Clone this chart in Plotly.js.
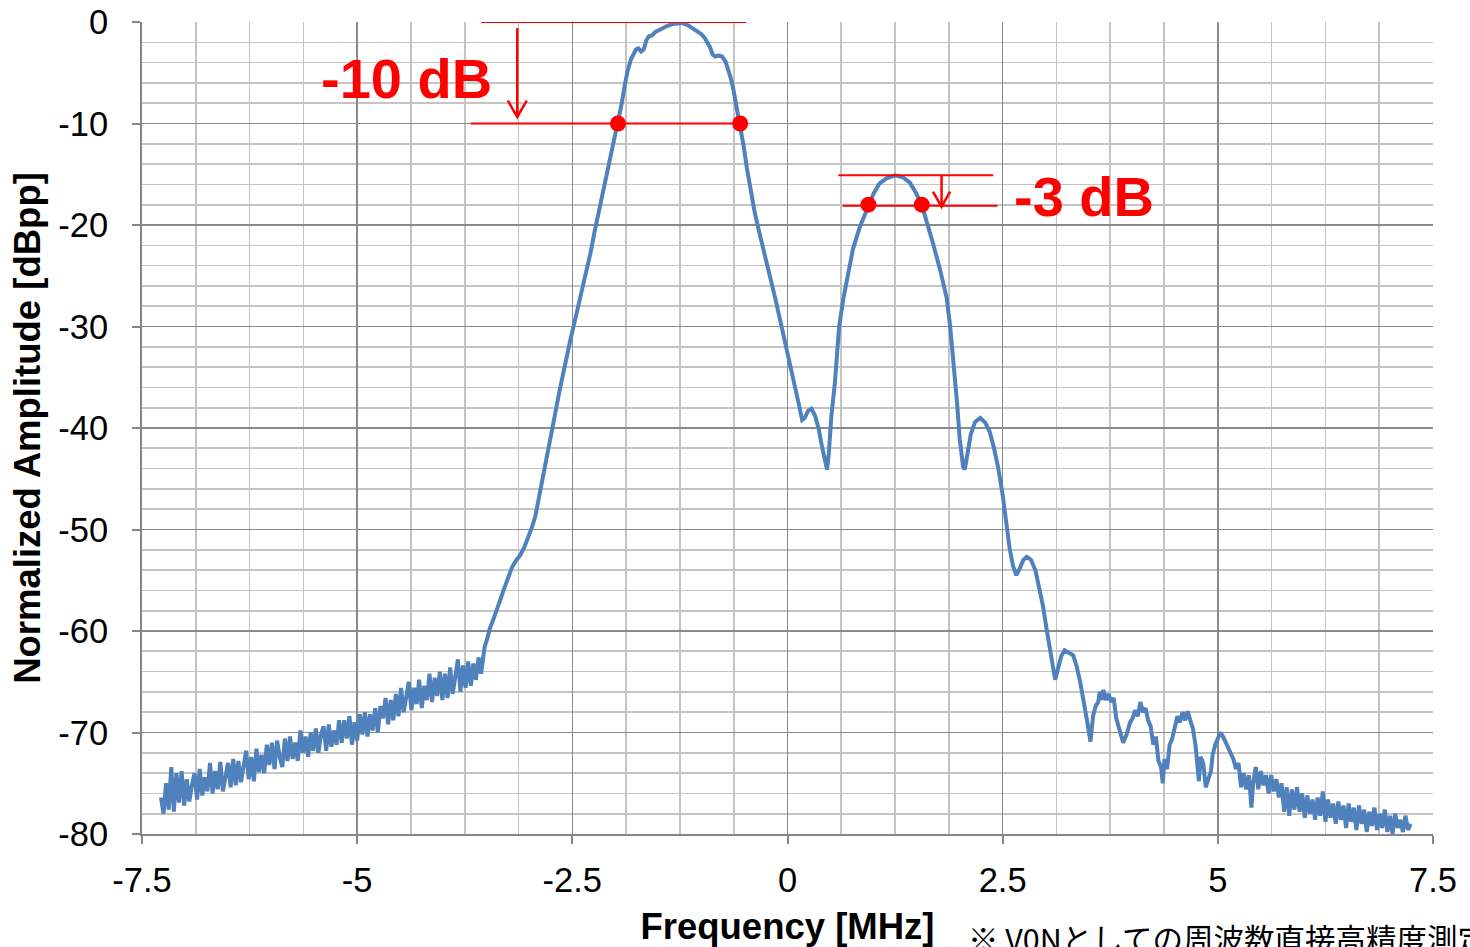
<!DOCTYPE html>
<html>
<head>
<meta charset="utf-8">
<script src="https://cdn.plot.ly/plotly-3.0.1.min.js"></script>
<style>html,body{margin:0;padding:0;background:#fff;overflow:hidden;}#chart{width:1470px;height:947px;}</style>
</head>
<body>
<div id="chart"></div>
<script>
// ---- data ----
// noisy floor on the low-frequency side
const freqFloor = [-7.28,-7.25,-7.22,-7.19,-7.16,-7.13,-7.10,-7.07,-7.04,-7.01,
  -6.98,-6.95,-6.92,-6.89,-6.86,-6.83,-6.80,-6.77,-6.74,-6.71,
  -6.68,-6.65,-6.62,-6.59,-6.56,-6.53,-6.50,-6.47,-6.44,-6.41,
  -6.38,-6.35,-6.32,-6.29,-6.26,-6.23,-6.20,-6.17,-6.14,-6.11,
  -6.08,-6.05,-6.02,-5.99,-5.96,-5.93,-5.90,-5.87,-5.84,-5.81,
  -5.78,-5.75,-5.72,-5.69,-5.66,-5.63,-5.60,-5.57,-5.54,-5.51,
  -5.48,-5.45,-5.42,-5.39,-5.36,-5.33,-5.30,-5.27,-5.24,-5.21,
  -5.18,-5.15,-5.12,-5.09,-5.06,-5.03,-5.00,-4.97,-4.94,-4.91,
  -4.88,-4.85,-4.82,-4.79,-4.76,-4.73,-4.70,-4.67,-4.64,-4.61,
  -4.58,-4.55,-4.52,-4.49,-4.46,-4.43,-4.40,-4.37,-4.34,-4.31,
  -4.28,-4.25,-4.22,-4.19,-4.16,-4.13,-4.10,-4.07,-4.04,-4.01,
  -3.98,-3.95,-3.92,-3.89,-3.86,-3.83,-3.80,-3.77,-3.74,-3.71,
  -3.68,-3.65,-3.62,-3.59,-3.56];
const ampFloor = [-76.4,-78.0,-75.0,-77.6,-73.4,-77.8,-74.0,-76.9,-73.8,-77.2,
  -74.6,-76.8,-75.2,-74.0,-76.6,-73.6,-76.2,-74.4,-75.8,-73.0,
  -76.0,-73.8,-75.6,-72.9,-75.8,-74.2,-73.0,-75.4,-72.6,-75.2,
  -72.8,-74.9,-73.2,-71.8,-74.6,-72.4,-74.8,-71.6,-73.9,-72.2,
  -74.0,-71.2,-73.2,-71.0,-73.6,-70.8,-72.4,-73.4,-70.6,-72.8,
  -70.4,-72.6,-71.0,-72.8,-69.8,-72.0,-70.4,-72.4,-70.0,-71.8,
  -69.6,-72.0,-70.2,-69.4,-71.8,-69.2,-71.4,-69.8,-71.2,-68.8,
  -71.0,-68.8,-70.6,-68.4,-71.2,-69.0,-70.8,-68.2,-70.2,-68.0,
  -70.4,-68.2,-69.8,-67.6,-70.0,-67.4,-68.6,-66.6,-69.2,-66.8,
  -68.8,-66.2,-68.4,-65.6,-68.0,-66.6,-65.0,-67.8,-65.6,-67.2,
  -64.8,-67.6,-65.4,-66.8,-64.2,-67.0,-64.6,-66.4,-64.0,-66.8,
  -64.2,-66.6,-63.6,-66.2,-64.4,-62.8,-66.0,-63.4,-65.6,-63.0,
  -65.4,-63.2,-64.8,-62.6,-64.2];

// main lobe, first side lobe and near sidebands
const freqMain = [-3.54,-3.52,-3.49,-3.46,-3.42,-3.38,-3.34,-3.30,-3.26,-3.23,-3.20,-3.15,-3.11,-3.06,-3.02,-2.97,-2.93,-2.88,-2.84,-2.80,-2.75,-2.70,-2.65,-2.59,-2.53,-2.47,-2.41,-2.35,-2.29,-2.24,-2.18,-2.12,-2.06,-2.00,-1.97,-1.93,-1.89,-1.86,-1.82,-1.79,-1.76,-1.73,-1.70,-1.67,-1.64,-1.61,-1.57,-1.54,-1.50,-1.45,-1.40,-1.34,-1.28,-1.22,-1.16,-1.10,-1.05,-1.00,-0.96,-0.93,-0.90,-0.87,-0.84,-0.80,-0.76,-0.72,-0.69,-0.66,-0.63,-0.60,-0.57,-0.55,-0.51,-0.47,-0.43,-0.38,-0.32,-0.26,-0.20,-0.14,-0.08,-0.02,0.03,0.08,0.13,0.17,0.20,0.24,0.28,0.32,0.36,0.40,0.44,0.46,0.48,0.51,0.55,0.60,0.65,0.70,0.76,0.84,0.90,0.94,1.00,1.07,1.15,1.25,1.34,1.42,1.49,1.56,1.62,1.69,1.77,1.85,1.89,1.93,1.97,2.00,2.04,2.06,2.09,2.13,2.18,2.24,2.30,2.35,2.40,2.45,2.50,2.54,2.58,2.62,2.66,2.70,2.74,2.78,2.83,2.88,2.93,2.97,3.01,3.05,3.08,3.11,3.14,3.18,3.22,3.27,3.32,3.36,3.40];
const ampMain = [-62.9,-61.6,-60.8,-59.8,-58.9,-57.8,-57.0,-56.0,-55.0,-54.5,-53.7,-53.0,-52.6,-51.8,-51.0,-49.8,-48.7,-46.4,-44.6,-43.0,-40.6,-38.6,-36.4,-33.9,-31.6,-29.4,-27.3,-25.2,-22.8,-20.6,-18.2,-15.8,-13.4,-11.2,-10.0,-8.2,-6.2,-4.9,-3.7,-3.1,-2.7,-2.6,-2.9,-2.7,-1.8,-1.4,-1.3,-1.0,-0.8,-0.6,-0.4,-0.2,-0.1,-0.1,-0.3,-0.6,-0.9,-1.2,-1.6,-2.0,-2.5,-3.2,-3.4,-3.3,-3.4,-3.9,-4.6,-5.5,-6.6,-7.9,-9.2,-10.0,-12.2,-14.5,-16.6,-18.8,-21.0,-23.0,-25.0,-27.3,-29.6,-31.8,-33.6,-35.6,-37.6,-39.2,-39.0,-38.3,-38.1,-38.8,-40.0,-41.8,-43.6,-44.1,-42.5,-38.8,-35.6,-30.0,-27.2,-24.8,-22.4,-20.2,-18.9,-18.0,-16.9,-15.9,-15.4,-15.1,-15.3,-15.8,-16.8,-18.0,-19.7,-21.8,-24.3,-27.2,-30.0,-33.3,-37.5,-41.0,-43.8,-44.1,-42.5,-40.6,-39.4,-39.0,-39.5,-40.4,-42.0,-44.0,-46.6,-49.5,-51.8,-53.6,-54.5,-53.8,-53.0,-52.7,-53.0,-54.0,-55.8,-57.6,-59.8,-61.8,-63.6,-64.8,-63.8,-62.5,-61.9,-62.2,-62.4,-63.5,-65.0];

// noisy high-frequency tail
const freqTail = [3.48,3.50,3.52,3.55,3.58,3.61,3.63,3.65,3.67,3.70,
  3.73,3.76,3.79,3.82,3.86,3.90,3.94,3.98,4.01,4.04,
  4.07,4.10,4.13,4.16,4.19,4.22,4.25,4.28,4.31,4.34,
  4.36,4.38,4.41,4.44,4.47,4.50,4.53,4.56,4.59,4.62,
  4.65,4.68,4.71,4.74,4.76,4.78,4.80,4.83,4.86,4.89,
  4.92,4.94,4.97,5.00,5.03,5.06,5.09,5.12,5.15,5.18,
  5.21,5.24,5.27,5.30,5.33,5.36,5.39,5.41,5.44,5.47,
  5.50,5.53,5.56,5.59,5.62,5.65,5.68,5.71,5.74,5.77,
  5.80,5.83,5.86,5.89,5.92,5.95,5.98,6.01,6.04,6.07,
  6.10,6.13,6.16,6.19,6.22,6.25,6.28,6.31,6.34,6.37,
  6.40,6.43,6.46,6.49,6.52,6.55,6.58,6.61,6.64,6.67,
  6.70,6.73,6.76,6.79,6.82,6.85,6.88,6.91,6.94,6.97,
  7.00,7.03,7.06,7.09,7.12,7.15,7.18,7.21,7.24];
const ampTail = [-68.8,-70.2,-70.9,-68.4,-67.4,-67.0,-66.0,-66.8,-65.8,-66.8,
  -66.2,-67.0,-66.6,-68.6,-70.0,-71.0,-70.2,-69.0,-68.6,-67.8,
  -68.4,-67.0,-68.0,-67.6,-68.8,-69.4,-71.2,-70.4,-72.8,-73.4,
  -75.0,-72.6,-73.6,-71.2,-70.6,-69.4,-68.4,-69.0,-68.0,-68.8,
  -67.9,-68.8,-69.6,-71.2,-73.6,-74.8,-72.4,-73.0,-75.4,-74.6,
  -73.8,-72.2,-71.2,-70.6,-70.0,-70.4,-71.0,-71.4,-72.2,-72.6,
  -73.6,-73.0,-75.4,-74.0,-75.6,-74.2,-77.4,-75.0,-73.4,-75.6,
  -73.8,-75.2,-74.2,-76.0,-74.2,-75.8,-74.6,-76.4,-75.0,-77.8,
  -75.4,-78.2,-75.6,-77.6,-75.4,-77.8,-76.0,-78.4,-76.2,-78.0,
  -76.6,-78.6,-76.4,-78.2,-75.8,-78.8,-76.6,-78.4,-77.0,-79.0,
  -76.8,-78.6,-77.2,-79.4,-77.0,-78.8,-77.4,-79.6,-77.2,-79.0,
  -77.6,-79.8,-77.8,-79.2,-77.4,-79.6,-78.0,-79.4,-77.6,-79.8,
  -78.2,-80.0,-78.0,-79.4,-78.6,-79.8,-78.2,-79.6,-79.0];

// measurement points (-10 dB and -3 dB crossings)
const markerFreq = [-1.97, -0.55, 0.94, 1.56];
const markerAmp = [-10, -10, -18, -18];

const xTickVals = [-7.5, -5, -2.5, 0, 2.5, 5, 7.5];
const xTickText = ['-7.5', '-5', '-2.5', '0', '2.5', '5', '7.5'];
const yTickVals = [-80, -70, -60, -50, -40, -30, -20, -10, 0];
const yTickText = ['-80', '-70', '-60', '-50', '-40', '-30', '-20', '-10', '0'];

// ---- build ----
const freq = freqFloor.concat(freqMain, freqTail);
const amp = ampFloor.concat(ampMain, ampTail);

const RED = '#ff0000';
const FONT = 'Liberation Sans, Arial, sans-serif';

const traces = [
  {x: freq, y: amp, type: 'scatter', mode: 'lines',
   line: {color: '#4f81bd', width: 4}, hoverinfo: 'skip'},
  {x: markerFreq, y: markerAmp, type: 'scatter', mode: 'markers',
   marker: {color: RED, size: 16}, hoverinfo: 'skip'}
];

const shapes = [
  // -10 dB guide
  {type: 'line', xref: 'x', yref: 'y', x0: -3.56, x1: -0.48, y0: 0, y1: 0, line: {color: RED, width: 2}},
  {type: 'line', xref: 'x', yref: 'y', x0: -3.68, x1: -0.46, y0: -10, y1: -10, line: {color: RED, width: 2}},
  {type: 'path', xref: 'x', yref: 'y', path: 'M -3.14 -0.6 L -3.14 -9.35', line: {color: RED, width: 2.5}},
  {type: 'path', xref: 'x', yref: 'y', path: 'M -3.25 -7.75 L -3.14 -9.35 L -3.03 -7.75', line: {color: RED, width: 2.5}},
  // -3 dB guide
  {type: 'line', xref: 'x', yref: 'y', x0: 0.59, x1: 2.39, y0: -15.1, y1: -15.1, line: {color: RED, width: 2}},
  {type: 'line', xref: 'x', yref: 'y', x0: 0.64, x1: 2.44, y0: -18.1, y1: -18.1, line: {color: RED, width: 2}},
  {type: 'path', xref: 'x', yref: 'y', path: 'M 1.79 -15.1 L 1.79 -18.2', line: {color: RED, width: 2.5}},
  {type: 'path', xref: 'x', yref: 'y', path: 'M 1.69 -16.7 L 1.79 -18.2 L 1.89 -16.7', line: {color: RED, width: 2.5}}
];

const annotations = [
  {x: -4.43, y: -5.6, xref: 'x', yref: 'y', text: '<b>-10 dB</b>', showarrow: false,
   font: {family: FONT, size: 56, color: RED}},
  {x: 3.44, y: -17.2, xref: 'x', yref: 'y', text: '<b>-3 dB</b>', showarrow: false,
   font: {family: FONT, size: 56, color: RED}},
  {x: 0.638, y: -0.128, xref: 'paper', yref: 'paper', xanchor: 'left', yanchor: 'middle',
   text: '※ V0Nとしての周波数直接高精度測定', showarrow: false,
   font: {family: 'Noto Sans CJK JP, sans-serif', size: 30.5, color: '#000'}}
];

const layout = {
  width: 1470, height: 947,
  margin: {l: 142, r: 37, t: 22, b: 113, pad: 0},
  paper_bgcolor: '#fff', plot_bgcolor: '#fff',
  showlegend: false,
  font: {family: FONT, color: '#000'},
  xaxis: {
    range: [-7.5, 7.5], tickmode: 'array', tickvals: xTickVals, ticktext: xTickText,
    tickfont: {family: FONT, size: 34.5, color: '#000'},
    ticks: 'outside', ticklen: 8, tickcolor: '#868686', tickwidth: 2,
    ticklabelstandoff: 7,
    showline: true, linecolor: '#868686', linewidth: 2,
    showgrid: true, gridcolor: '#8a8a8a', gridwidth: 1.6,
    minor: {tickmode: 'linear', tick0: -7.5, dtick: 0.625, showgrid: true, gridcolor: '#c4c4c4', gridwidth: 1.6, ticks: ''},
    zeroline: false,
    title: {text: '<b>Frequency [MHz]</b>', font: {family: FONT, size: 36.5, color: '#000'}, standoff: 17}
  },
  yaxis: {
    range: [-80, 0], tickmode: 'array', tickvals: yTickVals, ticktext: yTickText,
    tickfont: {family: FONT, size: 34.5, color: '#000'},
    ticks: 'outside', ticklen: 8, tickcolor: '#868686', tickwidth: 2,
    ticklabelstandoff: 17,
    showline: true, linecolor: '#868686', linewidth: 2,
    showgrid: true, gridcolor: '#8a8a8a', gridwidth: 1.6,
    minor: {tickmode: 'linear', tick0: -80, dtick: 2, showgrid: true, gridcolor: '#c4c4c4', gridwidth: 1.6, ticks: ''},
    zeroline: false,
    title: {text: '<b>Normalized Amplitude [dBpp]</b>', font: {family: FONT, size: 36.5, color: '#000'}, standoff: 6}
  },
  shapes: shapes,
  annotations: annotations
};

Plotly.newPlot('chart', traces, layout, {staticPlot: true, displayModeBar: false});
</script>
</body>
</html>
